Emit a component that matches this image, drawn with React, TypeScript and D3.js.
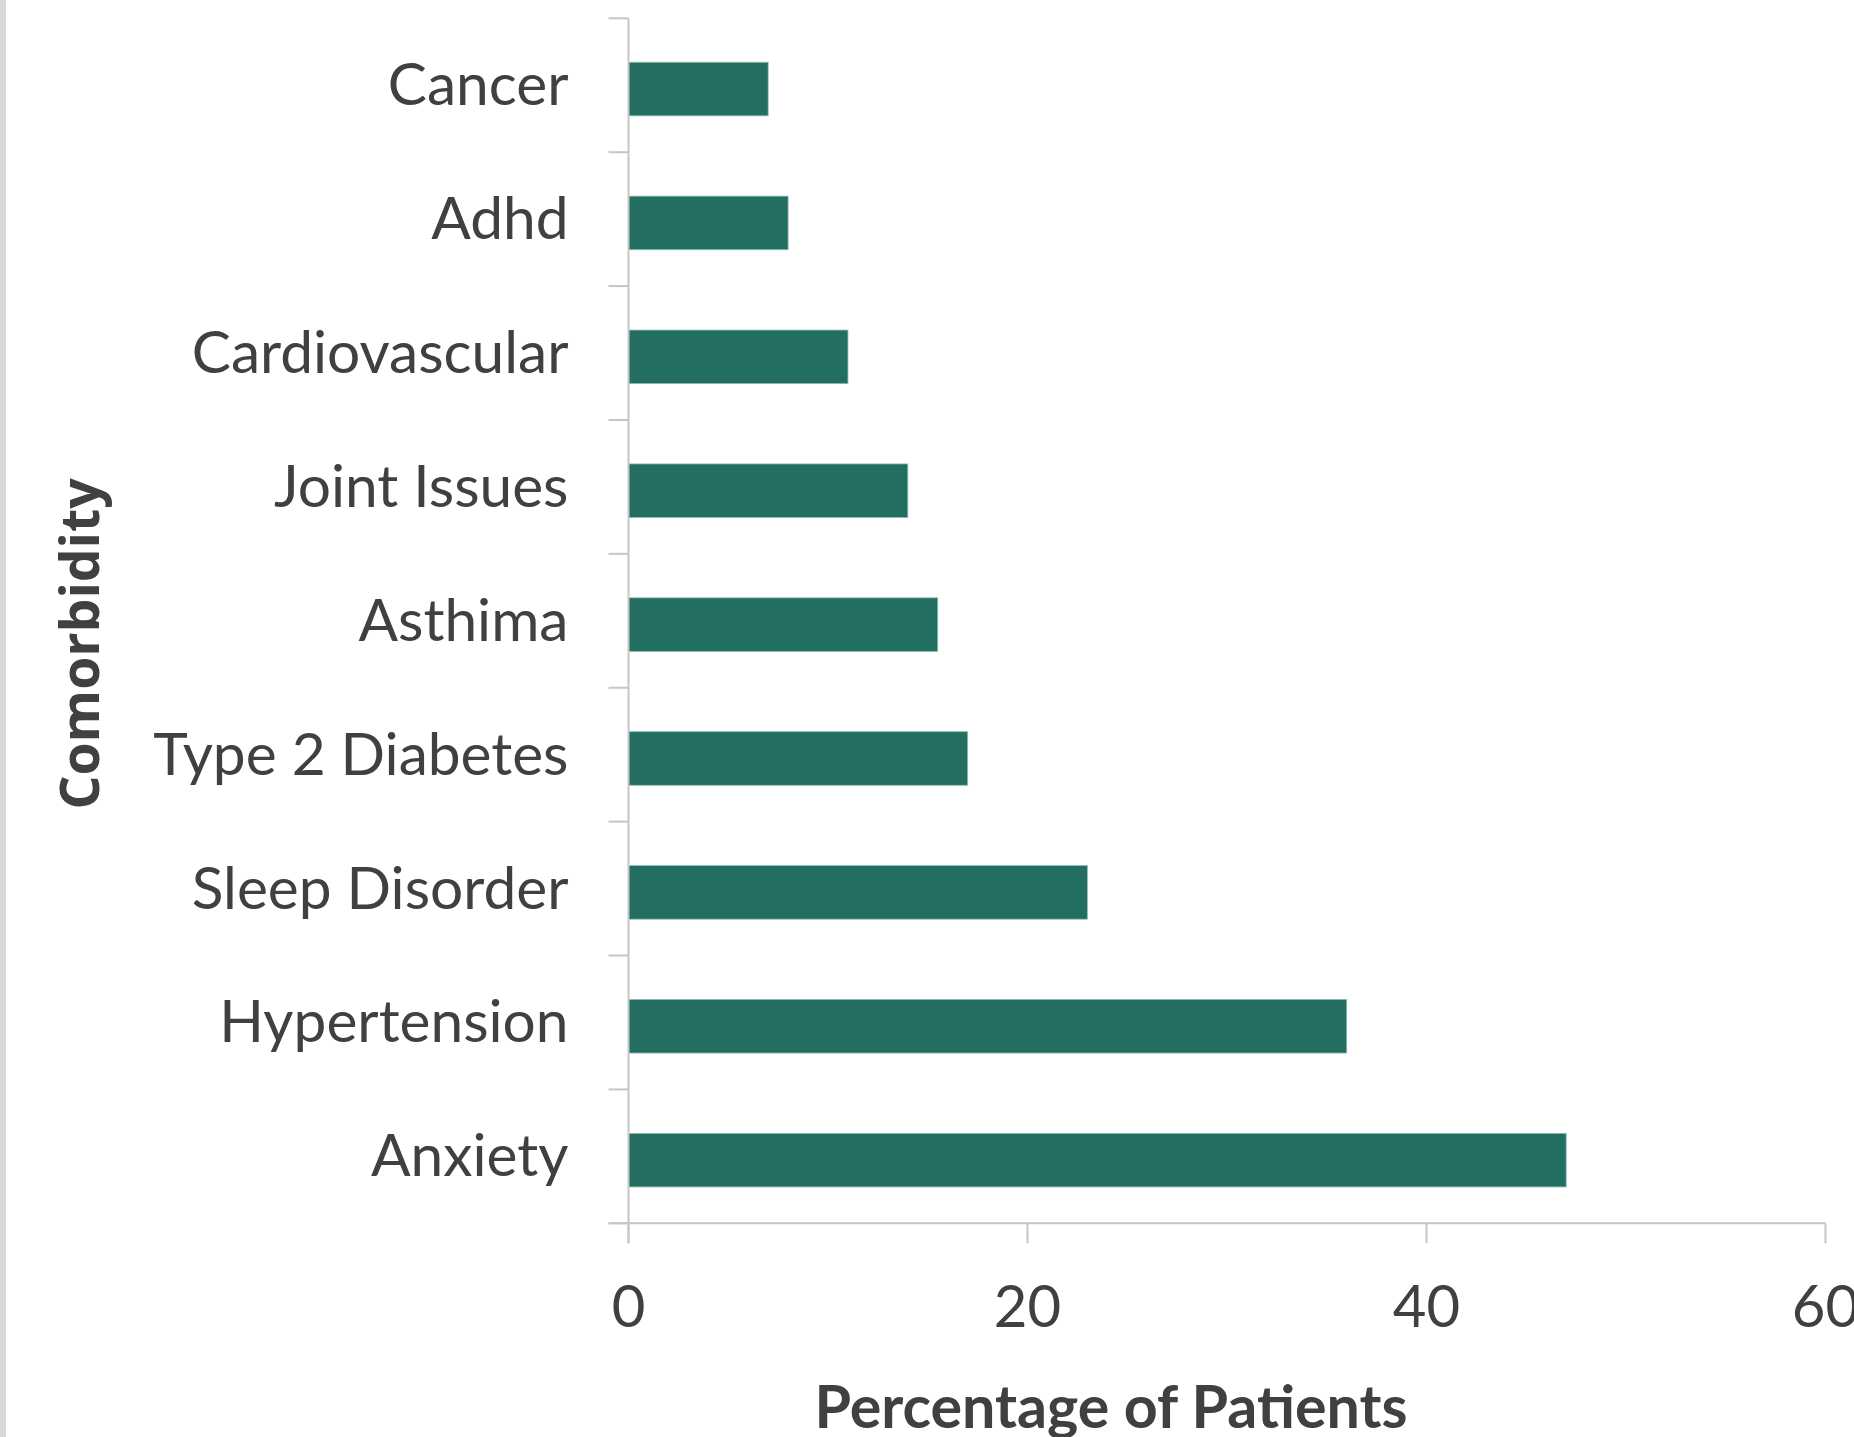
import React from "react";
import * as d3 from "d3";

// Comorbidities, listed top to bottom
const categories: string[] = [
  "Cancer",
  "Adhd",
  "Cardiovascular",
  "Joint Issues",
  "Asthima",
  "Type 2 Diabetes",
  "Sleep Disorder",
  "Hypertension",
  "Anxiety",
];

// Percentage of patients with each comorbidity
const percentages: number[] = [7, 8, 11, 14, 15.5, 17, 23, 36, 47];

const xTicks: number[] = [0, 20, 40, 60];

const xTitle = "Percentage of Patients";
const yTitle = "Comorbidity";

const W = 1854;
const H = 1437;

const BAR_COLOR = "#226e61";
const TEXT_COLOR = "#404040";
const AXIS_COLOR = "#c6c6c6";

export default function App() {
  const plotLeft = 628.5;
  const plotRight = 1825.5;
  const plotTop = 18.3;
  const plotBottom = 1223.3;

  const x = d3.scaleLinear().domain([0, 60]).range([plotLeft, plotRight]);
  const y = d3
    .scaleBand<string>()
    .domain(categories)
    .range([plotTop, plotBottom])
    .padding(0);

  const band = y.bandwidth();
  const barH = band * 0.4;
  const barShift = 3.8;
  const tickLen = 20;
  const labelFont = "Lato, 'Open Sans', sans-serif";

  // category boundaries for the y-axis tick marks
  const boundaries = d3.range(categories.length + 1).map((i) => plotTop + i * band);

  return (
    <svg
      width={W}
      height={H}
      viewBox={`0 0 ${W} ${H}`}
      style={{ position: "absolute", left: 0, top: 0, background: "#ffffff" }}
    >
      <rect x={0} y={0} width={W} height={H} fill="#ffffff" />
      <rect x={0} y={0} width={6} height={H} fill="#d9d9d9" />

      {/* bars */}
      {categories.map((c, i) => (
        <rect
          key={c}
          x={x(0)}
          y={(y(c) as number) + (band - barH) / 2 + barShift}
          width={x(percentages[i]) - x(0)}
          height={barH}
          fill={BAR_COLOR}
          stroke="#8fbab2"
          strokeWidth={0.8}
        />
      ))}

      {/* y axis */}
      <line x1={plotLeft} x2={plotLeft} y1={plotTop} y2={plotBottom + tickLen} stroke={AXIS_COLOR} strokeWidth={2} />
      {boundaries.map((b, i) => (
        <line key={i} x1={plotLeft - tickLen} x2={plotLeft} y1={b} y2={b} stroke={AXIS_COLOR} strokeWidth={2} />
      ))}

      {/* x axis */}
      <line x1={plotLeft - tickLen} x2={plotRight} y1={plotBottom} y2={plotBottom} stroke={AXIS_COLOR} strokeWidth={2} />
      {xTicks.map((t) => (
        <line key={t} x1={x(t)} x2={x(t)} y1={plotBottom} y2={plotBottom + tickLen} stroke={AXIS_COLOR} strokeWidth={2} />
      ))}

      {/* category labels */}
      {categories.map((c) => (
        <text
          key={c}
          x={568.5}
          y={(y(c) as number) + band / 2 + 20}
          textAnchor="end"
          fontFamily={labelFont}
          fontSize={58.6}
          fill={TEXT_COLOR}
        >
          {c}
        </text>
      ))}

      {/* x tick labels */}
      {xTicks.map((t) => (
        <text
          key={t}
          x={x(t)}
          y={1327}
          textAnchor="middle"
          fontFamily={labelFont}
          fontSize={58}
          fill={TEXT_COLOR}
        >
          {t}
        </text>
      ))}

      {/* axis titles */}
      <text
        x={1111}
        y={1428}
        textAnchor="middle"
        fontFamily={labelFont}
        fontWeight="bold"
        fontSize={59.2}
        fill={TEXT_COLOR}
      >
        {xTitle}
      </text>
      <text
        transform={`translate(99, 644) rotate(-90)`}
        textAnchor="middle"
        fontFamily="'Open Sans', sans-serif"
        fontWeight="bold"
        fontSize={53.5}
        fill={TEXT_COLOR}
      >
        {yTitle}
      </text>
    </svg>
  );
}
